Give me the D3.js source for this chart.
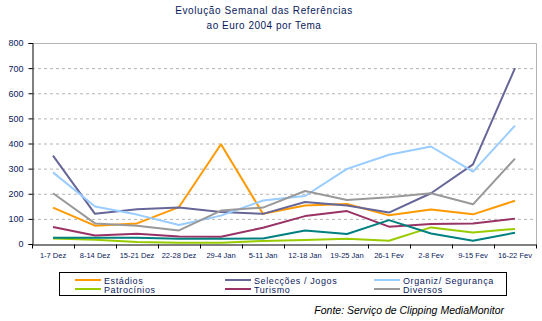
<!DOCTYPE html>
<html>
<head>
<meta charset="utf-8">
<script src="https://cdn.jsdelivr.net/npm/d3@7"></script>
<style>
  body { margin: 0; background: #fff; }
  svg { display: block; font-family: Arial, "Liberation Sans", sans-serif; }
</style>
</head>
<body>
<div id="chart"></div>
<script>
// Semanas (eixo x)
const semanas = ['1-7 Dez', '8-14 Dez', '15-21 Dez', '22-28 Dez', '29-4 Jan', '5-11 Jan',
  '12-18 Jan', '19-25 Jan', '26-1 Fev', '2-8 Fev', '9-15 Fev', '16-22 Fev'];

// Referências por tema
const estadios     = [145, 73, 82, 147, 397, 120, 153, 159, 114, 137, 118, 172];
const seleccoes    = [352, 120, 138, 145, 127, 120, 167, 153, 125, 202, 317, 700];
const organiz      = [285, 149, 117, 76, 113, 173, 191, 299, 355, 388, 288, 471];
const patrocinios  = [22, 17, 8, 5, 5, 12, 16, 21, 13, 66, 46, 60];
const turismo      = [68, 34, 41, 30, 29, 65, 111, 131, 69, 80, 82, 101];
const diversos     = [202, 82, 73, 54, 133, 145, 211, 175, 186, 202, 158, 340];
const outros       = [25, 25, 25, 21, 21, 22, 54, 40, 95, 42, 13, 45];

const yTicks = [0, 100, 200, 300, 400, 500, 600, 700, 800];

const series = [
  { nome: 'Estádios', valores: estadios, cor: '#FF9900', legenda: true },
  { nome: 'Selecções / Jogos', valores: seleccoes, cor: '#666699', legenda: true },
  { nome: 'Organiz/ Segurança', valores: organiz, cor: '#99CCFF', legenda: true },
  { nome: 'Patrocínios', valores: patrocinios, cor: '#99CC00', legenda: true },
  { nome: 'Turismo', valores: turismo, cor: '#993366', legenda: true },
  { nome: 'Diversos', valores: diversos, cor: '#999999', legenda: true },
  { nome: 'Outros', valores: outros, cor: '#008080', legenda: false }
];

const width = 542, height = 321;
const plot = { left: 32, right: 536, top: 43, bottom: 244 };
const navy = '#0A1A5C';

const svg = d3.select('#chart').append('svg')
  .attr('width', width)
  .attr('height', height);

// Título
svg.append('text')
  .attr('x', 264).attr('y', 14)
  .attr('text-anchor', 'middle')
  .attr('font-size', 10).attr('fill', navy)
  .attr('letter-spacing', 0.6)
  .text('Evolução Semanal das Referências');
svg.append('text')
  .attr('x', 264).attr('y', 29)
  .attr('text-anchor', 'middle')
  .attr('font-size', 10).attr('fill', navy)
  .attr('letter-spacing', 0.5)
  .text('ao Euro 2004 por Tema');

const x = d3.scaleBand()
  .domain(semanas)
  .range([plot.left, plot.right]);

const y = d3.scaleLinear()
  .domain([0, 800])
  .range([plot.bottom, plot.top]);

// Grelha tracejada
svg.append('g')
  .selectAll('line')
  .data(yTicks.filter(t => t > 0 && t < 800))
  .enter().append('line')
  .attr('x1', plot.left).attr('x2', plot.right)
  .attr('y1', d => y(d) + 0.5).attr('y2', d => y(d) + 0.5)
  .attr('stroke', '#B4B4B4')
  .attr('stroke-dasharray', '3,3');

// Moldura superior e direita
svg.append('path')
  .attr('d', `M${plot.left},${plot.top + 0.5}H${plot.right + 0.5}V${plot.bottom}`)
  .attr('fill', 'none')
  .attr('stroke', '#B4B4B4');

// Eixo y
const yAxis = svg.append('g')
  .attr('transform', `translate(${plot.left + 0.5},0)`)
  .call(d3.axisLeft(y).tickValues(yTicks).tickSize(4).tickPadding(5));
yAxis.select('.domain').attr('stroke', '#000');
yAxis.selectAll('.tick line').attr('stroke', '#000');
yAxis.selectAll('text').attr('font-size', 9).attr('fill', navy)
  .attr('font-family', 'Arial, "Liberation Sans", sans-serif');

// Eixo x com marcas entre categorias
const xAxis = svg.append('g')
  .attr('transform', `translate(0,${plot.bottom + 0.5})`)
  .call(d3.axisBottom(x).tickSize(0).tickPadding(8));
xAxis.select('.domain').attr('stroke', '#000');
xAxis.selectAll('text').attr('font-size', 7.5).attr('fill', navy)
  .attr('font-family', 'Arial, "Liberation Sans", sans-serif');
xAxis.selectAll('.sep')
  .data(semanas.concat(['fim']))
  .enter().append('line')
  .attr('class', 'sep')
  .attr('x1', (d, i) => Math.round(plot.left + i * x.bandwidth()) + 0.5)
  .attr('x2', (d, i) => Math.round(plot.left + i * x.bandwidth()) + 0.5)
  .attr('y1', 0).attr('y2', 4)
  .attr('stroke', '#000');

// Linhas das séries
const line = d3.line()
  .x((d, i) => x(semanas[i]) + x.bandwidth() / 2)
  .y(d => y(d));

svg.append('g')
  .selectAll('path')
  .data(series)
  .enter().append('path')
  .attr('d', d => line(d.valores))
  .attr('fill', 'none')
  .attr('stroke', d => d.cor)
  .attr('stroke-width', 2)
  .attr('stroke-linejoin', 'round');

// Legenda
const leg = svg.append('g');
leg.append('rect')
  .attr('x', 59.5).attr('y', 272.5)
  .attr('width', 447).attr('height', 23)
  .attr('fill', '#fff').attr('stroke', '#000');

const legItems = series.filter(s => s.legenda);
const colX = [75, 225, 374];
const rowY = [280, 289];
legItems.forEach((s, i) => {
  const cx = colX[i % 3], cy = rowY[Math.floor(i / 3)];
  leg.append('line')
    .attr('x1', cx).attr('x2', cx + 26)
    .attr('y1', cy).attr('y2', cy)
    .attr('stroke', s.cor).attr('stroke-width', 2);
  leg.append('text')
    .attr('x', cx + 29).attr('y', cy + 3.5)
    .attr('font-size', 9).attr('fill', navy)
    .attr('letter-spacing', 0.6)
    .text(s.nome);
});

// Fonte
svg.append('text')
  .attr('x', 504).attr('y', 314)
  .attr('text-anchor', 'end')
  .attr('font-size', 10.5).attr('font-style', 'italic')
  .attr('fill', '#000')
  .text('Fonte: Serviço de Clipping MediaMonitor');
</script>
</body>
</html>
